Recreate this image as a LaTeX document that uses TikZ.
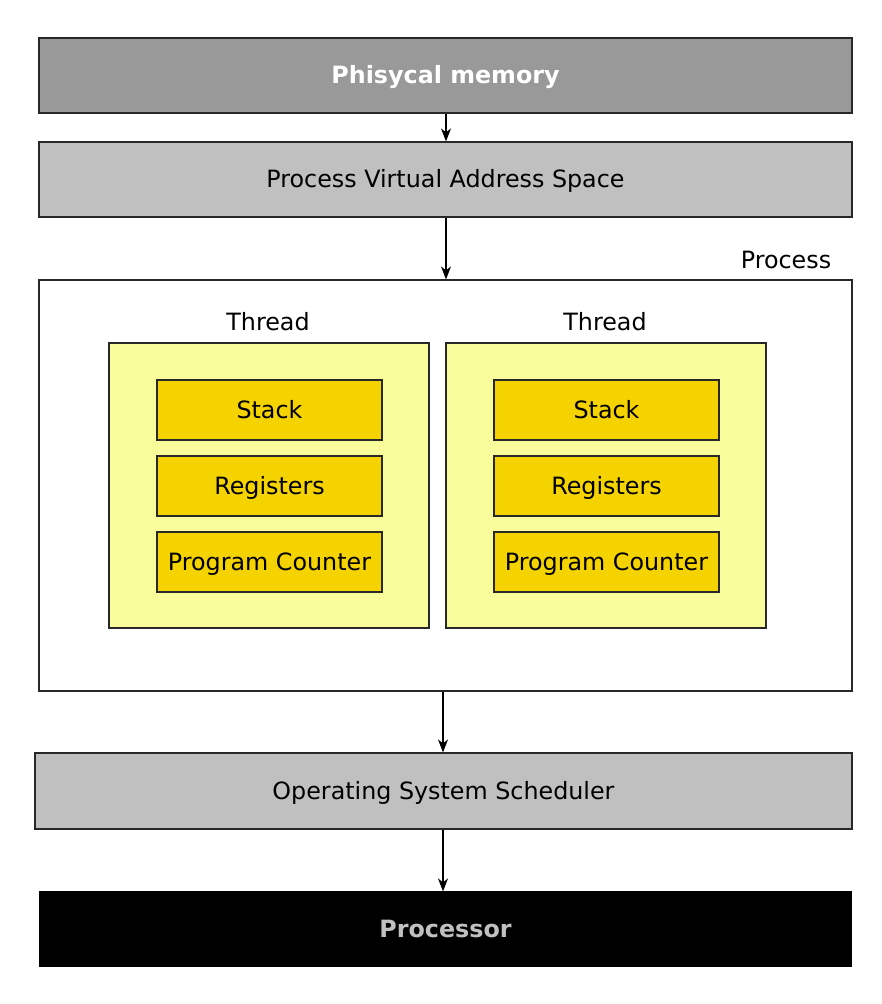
\documentclass[tikz,border=0pt]{standalone}
\usepackage{fontspec}
\setmainfont{DejaVu Sans}
\usetikzlibrary{arrows.meta}
\definecolor{memgray}{RGB}{153,153,153}
\definecolor{boxgray}{RGB}{192,192,192}
\definecolor{threadyel}{RGB}{248,252,154}
\definecolor{gold}{RGB}{245,211,0}
\definecolor{edge}{RGB}{40,40,40}
\begin{document}
\begin{tikzpicture}[x=1pt,y=-1pt,
  txt/.style={font=\fontsize{23.8}{28}\selectfont},
  box/.style={draw=edge,line width=1.2pt,inner sep=0pt,txt,text height=16pt,text depth=0pt},
  wide/.style={box,minimum height=75pt},
  thr/.style={draw=edge,line width=1.2pt,fill=threadyel,inner sep=0pt,minimum width=320pt,minimum height=285pt},
  part/.style={box,fill=gold,minimum width=225pt,minimum height=60pt},
  lbl/.style={inner sep=0pt,txt},
  arr/.style={-{Stealth[length=13pt,width=10pt,inset=4pt]},line width=1.1pt,black}]
\useasboundingbox (0,0) rectangle (882,1004);
\node[wide,fill=memgray,minimum width=813pt,text=white,font=\fontsize{23.8}{28}\selectfont\bfseries] (mem) at (445.5,75.5) {Phisycal memory};
\node[wide,fill=boxgray,minimum width=813pt] (vas) at (445.5,179.5) {Process Virtual Address Space};
\node[draw=edge,line width=1.2pt,inner sep=0pt,fill=white,minimum width=813pt,minimum height=411pt] (proc) at (445.5,485.5) {};
\node[lbl] (proclbl) at (786,260) {Process};
\node[thr] (t1) at (269,485.5) {};
\node[thr] (t2) at (606,485.5) {};
\node[lbl] (t1lbl) at (268,322) {Thread};
\node[lbl] (t2lbl) at (605,322) {Thread};
\node[part] (s1) at (269.5,410) {Stack};
\node[part] (r1) at (269.5,486) {Registers};
\node[part] (p1) at (269.5,562) {Program Counter};
\node[part] (s2) at (606.5,410) {Stack};
\node[part] (r2) at (606.5,486) {Registers};
\node[part] (p2) at (606.5,562) {Program Counter};
\node[wide,fill=boxgray,minimum width=817pt,minimum height=76pt] (sched) at (443.5,791) {Operating System Scheduler};
\node[wide,fill=black,draw=black,minimum width=811pt,minimum height=74pt,text=boxgray,font=\fontsize{23.8}{28}\selectfont\bfseries] (cpu) at (445.5,929) {Processor};
\draw[arr] (mem.south -| 446,0) -- (vas.north -| 446,0);
\draw[arr] (vas.south -| 446,0) -- (proc.north -| 446,0);
\draw[arr] (proc.south -| 443,0) -- (sched.north -| 443,0);
\draw[arr] (sched.south -| 443,0) -- (cpu.north -| 443,0);
\end{tikzpicture}
\end{document}
